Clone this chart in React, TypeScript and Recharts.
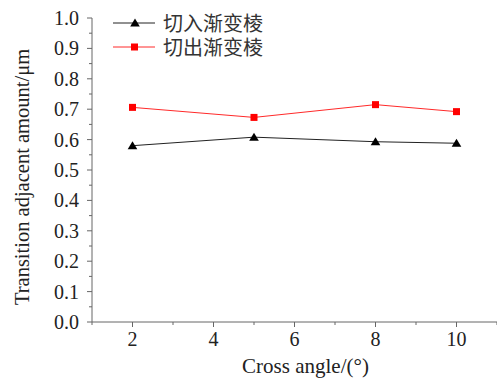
import { LineChart, Line, XAxis, YAxis, Legend, Label } from "recharts";

const angles = [2, 5, 8, 10];
const cutInValues = [0.58, 0.608, 0.593, 0.588];
const cutOutValues = [0.706, 0.673, 0.715, 0.692];

const xTicks = [1, 2, 3, 4, 5, 6, 7, 8, 9, 10, 11];
const xMajorTicks = [2, 4, 6, 8, 10];
const yTicks = [
  0, 0.05, 0.1, 0.15, 0.2, 0.25, 0.3, 0.35, 0.4, 0.45, 0.5,
  0.55, 0.6, 0.65, 0.7, 0.75, 0.8, 0.85, 0.9, 0.95, 1.0,
];
const yMajorTicks = [0, 0.1, 0.2, 0.3, 0.4, 0.5, 0.6, 0.7, 0.8, 0.9, 1.0];

const seriesNames = ["切入渐变棱", "切出渐变棱"];

const data = angles.map((angle, i) => ({
  angle,
  cutIn: cutInValues[i],
  cutOut: cutOutValues[i],
}));

const axisColor = "#666";
const textColor = "#222";
const serif = '"Liberation Serif", "Times New Roman", serif';

function XTick({ x, y, payload }: any) {
  const major = xMajorTicks.includes(payload.value);
  return (
    <g>
      <line x1={x} x2={x} y1={y} y2={y + (major ? 5 : 3)} stroke={axisColor} />
      {major && (
        <text x={x} y={y + 24} textAnchor="middle" fill={textColor} fontSize={20} fontFamily={serif}>
          {payload.value}
        </text>
      )}
    </g>
  );
}

function YTick({ x, y, payload }: any) {
  const major = yMajorTicks.some((t) => Math.abs(t - payload.value) < 1e-6);
  return (
    <g>
      <line x1={x} x2={x - (major ? 5 : 3)} y1={y} y2={y} stroke={axisColor} />
      {major && (
        <text x={x - 13} y={y} dy="0.35em" textAnchor="end" fill={textColor} fontSize={20} fontFamily={serif}>
          {payload.value.toFixed(1)}
        </text>
      )}
    </g>
  );
}

function Triangle({ cx, cy, fill }: any) {
  if (cx == null || cy == null) return null;
  return <path d={`M${cx},${cy - 4.5} L${cx + 4.8},${cy + 3.5} L${cx - 4.8},${cy + 3.5} Z`} fill={fill} />;
}

function Square({ cx, cy, fill }: any) {
  if (cx == null || cy == null) return null;
  return <rect x={cx - 3.5} y={cy - 3.5} width={7} height={7} fill={fill} />;
}

function LegendContent() {
  const rows = [
    { name: seriesNames[0], color: "#222", marker: "tri" },
    { name: seriesNames[1], color: "#ff2a2a", marker: "sq" },
  ];
  return (
    <div>
      {rows.map((r) => (
        <div key={r.name} style={{ display: "flex", alignItems: "center", height: 24 }}>
          <svg width={42} height={24} style={{ marginRight: 8 }}>
            <line x1={0} x2={42} y1={12} y2={12} stroke={r.color} strokeWidth={1} />
            {r.marker === "tri" ? (
              <path d="M22,7.5 L26.8,15.5 L17.2,15.5 Z" fill="#000" />
            ) : (
              <rect x={18} y={8.5} width={7} height={7} fill="#f00" />
            )}
          </svg>
          <span style={{ fontFamily: '"Noto Sans CJK SC", sans-serif', fontSize: 20, color: "#333", lineHeight: "24px" }}>
            {r.name}
          </span>
        </div>
      ))}
    </div>
  );
}

export default function App() {
  return (
    <div style={{ position: "absolute", left: 0, top: 0, background: "#fff" }}>
      <LineChart width={497} height={378} data={data} margin={{ top: 18, right: 0, bottom: 0, left: 0 }}>
        <XAxis
          dataKey="angle"
          type="number"
          domain={[1, 11]}
          ticks={xTicks}
          interval={0}
          height={56}
          stroke={axisColor}
          tickSize={0}
          tickMargin={0}
          tickLine={false}
          tick={<XTick />}
          label={
            <Label
              content={({ viewBox }: any) => (
                <text
                  x={viewBox.x + viewBox.width / 2 + 11}
                  y={viewBox.y + 51}
                  textAnchor="middle"
                  fill={textColor}
                  fontSize={21}
                  fontFamily={serif}
                >
                  Cross angle/(°)
                </text>
              )}
            />
          }
        />
        <YAxis
          type="number"
          domain={[0, 1]}
          ticks={yTicks}
          interval={0}
          width={92}
          stroke={axisColor}
          tickSize={0}
          tickMargin={0}
          tickLine={false}
          tick={<YTick />}
          label={
            <Label
              content={({ viewBox }: any) => {
                const cx = 29;
                const cy = viewBox.y + viewBox.height / 2 + 7;
                return (
                  <text
                    x={cx}
                    y={cy}
                    transform={`rotate(-90, ${cx}, ${cy})`}
                    textAnchor="middle"
                    fill={textColor}
                    fontSize={20.5}
                    fontFamily={serif}
                  >
                    Transition adjacent amount/μm
                  </text>
                );
              }}
            />
          }
        />
        <Legend
          verticalAlign="middle"
          align="center"
          layout="vertical"
          content={<LegendContent />}
          wrapperStyle={{ position: "absolute", left: 113, top: 11, width: "auto" }}
        />
        <Line
          dataKey="cutIn"
          name={seriesNames[0]}
          stroke="#222"
          strokeWidth={1}
          dot={<Triangle fill="#000" />}
          activeDot={false}
          isAnimationActive={false}
        />
        <Line
          dataKey="cutOut"
          name={seriesNames[1]}
          stroke="#ff2a2a"
          strokeWidth={1}
          dot={<Square fill="#f00" />}
          activeDot={false}
          isAnimationActive={false}
        />
      </LineChart>
    </div>
  );
}
